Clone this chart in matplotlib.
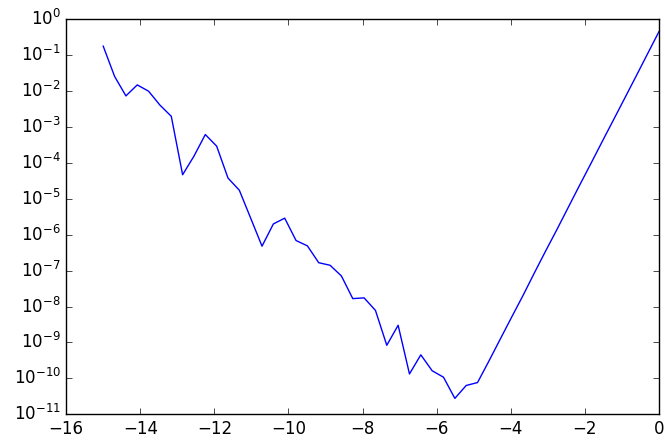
import numpy as np
import matplotlib
matplotlib.use("Agg")
import matplotlib.pyplot as plt

plt.style.use("classic")

# log10 of the step size, evenly spaced from -15 to 0
log_h = np.linspace(-15, 0, 50)

# absolute error at each step size
err = [1.8e-1, 2.6e-2, 7.4e-3, 1.5e-2, 1.0e-2, 4.1e-3, 2.0e-3, 4.7e-5,
       1.55e-4, 6.2e-4, 2.95e-4, 3.8e-5, 1.74e-5, 2.9e-6, 4.8e-7, 2.0e-6,
       2.9e-6, 6.9e-7, 4.9e-7, 1.66e-7, 1.41e-7, 7.1e-8, 1.66e-8, 1.74e-8,
       7.8e-9, 8.3e-10, 3.0e-9, 1.32e-10, 4.5e-10, 1.62e-10, 1.07e-10,
       2.75e-11, 6.3e-11, 7.6e-11,
       3.0e-10, 1.23e-9, 5.0e-9, 2.0e-8, 8.5e-8, 3.5e-7, 1.4e-6, 5.8e-6,
       2.4e-5, 9.7e-5, 4.0e-4, 1.62e-3, 6.6e-3, 2.7e-2, 1.12e-1, 4.6e-1]

fig = plt.figure(figsize=(6.65, 4.42), dpi=100)
fig.subplots_adjust(left=0.0995, right=0.991, top=0.956, bottom=0.063)
ax = fig.add_subplot(111)

ax.semilogy(log_h, err, "b-")
ax.set_xlim(-16, 0)
ax.set_ylim(1e-11, 1e0)

fig.savefig("out.png", dpi=100)
